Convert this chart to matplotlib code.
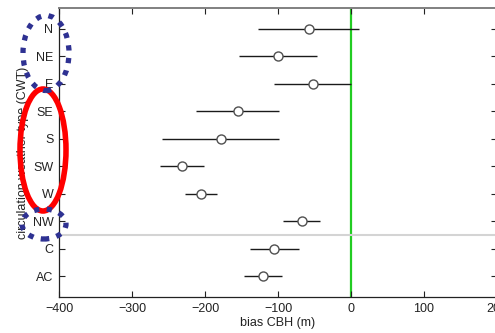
import matplotlib
matplotlib.use("Agg")
import matplotlib.pyplot as plt
from matplotlib.patches import Ellipse

# circulation weather types, top to bottom
cwt = ["N", "NE", "E", "SE", "S", "SW", "W", "NW", "C", "AC"]
bias = [-58, -100, -52, -155, -178, -231, -206, -67, -105, -120]
lo = [-127, -154, -105, -213, -259, -261, -228, -93, -138, -146]
hi = [11, -47, 0, -98, -98, -202, -184, -42, -71, -94]

plt.rcParams["font.family"] = ["Liberation Sans", "DejaVu Sans"]
plt.rcParams["font.size"] = 9

W, H = 495, 333
fig = plt.figure(figsize=(W / 100, H / 100), dpi=100)
ax = fig.add_axes([59 / W, 1 - 297 / H, 438 / W, 289 / H])

ypos = list(range(1, len(cwt) + 1))
err = [[b - l for b, l in zip(bias, lo)], [h - b for b, h in zip(bias, hi)]]

ax.axvline(0, color="#22cc22", lw=1.6, zorder=1)
ax.axhline(8.5, color="#d4d4d4", lw=1.5, zorder=1)
ax.errorbar(bias, ypos, xerr=err, fmt="o", mfc="white", mec="#505050",
            ms=6.5, mew=1.0, ecolor="#1a1a1a", elinewidth=1.0, capsize=0,
            zorder=3)

ax.set_xlim(-400, 200)
ax.set_ylim(10.75, 0.25)
ax.set_xticks([-400, -300, -200, -100, 0, 100, 200])
ax.set_xticklabels(["\u2212400", "\u2212300", "\u2212200", "\u2212100", "0", "100", "200"])
ax.set_yticks(ypos)
ax.set_yticklabels(cwt)
ax.tick_params(direction="in", length=4, width=0.8, top=True, right=True,
               labelsize=9, colors="#222222", pad=4)
for s in ax.spines.values():
    s.set_color("#222222")
    s.set_linewidth(0.9)
ax.spines["top"].set_color("#808080")
ax.spines["top"].set_linewidth(1.4)

ax.set_xlabel("bias CBH (m)", fontsize=9, labelpad=2, color="#222222")
ax.set_ylabel("circulation weather type (CWT)", fontsize=9, labelpad=3,
              color="#222222")


def fig_ellipse(cx, cy, w, h, **kw):
    e = Ellipse((cx / W, 1 - cy / H), w / W, h / H, transform=fig.transFigure,
                fill=False, **kw)
    fig.patches.append(e)


blue = "#2e3192"
dots = dict(edgecolor=blue, lw=3.8, linestyle=(0, (1, 1.4)), capstyle="butt")
fig_ellipse(43, 150, 46, 122, edgecolor="#ff0000", lw=4.0)
fig_ellipse(46, 53, 46, 75, **dots)
fig_ellipse(44, 224, 44, 30, **dots)

fig.savefig("out.png", dpi=100)
